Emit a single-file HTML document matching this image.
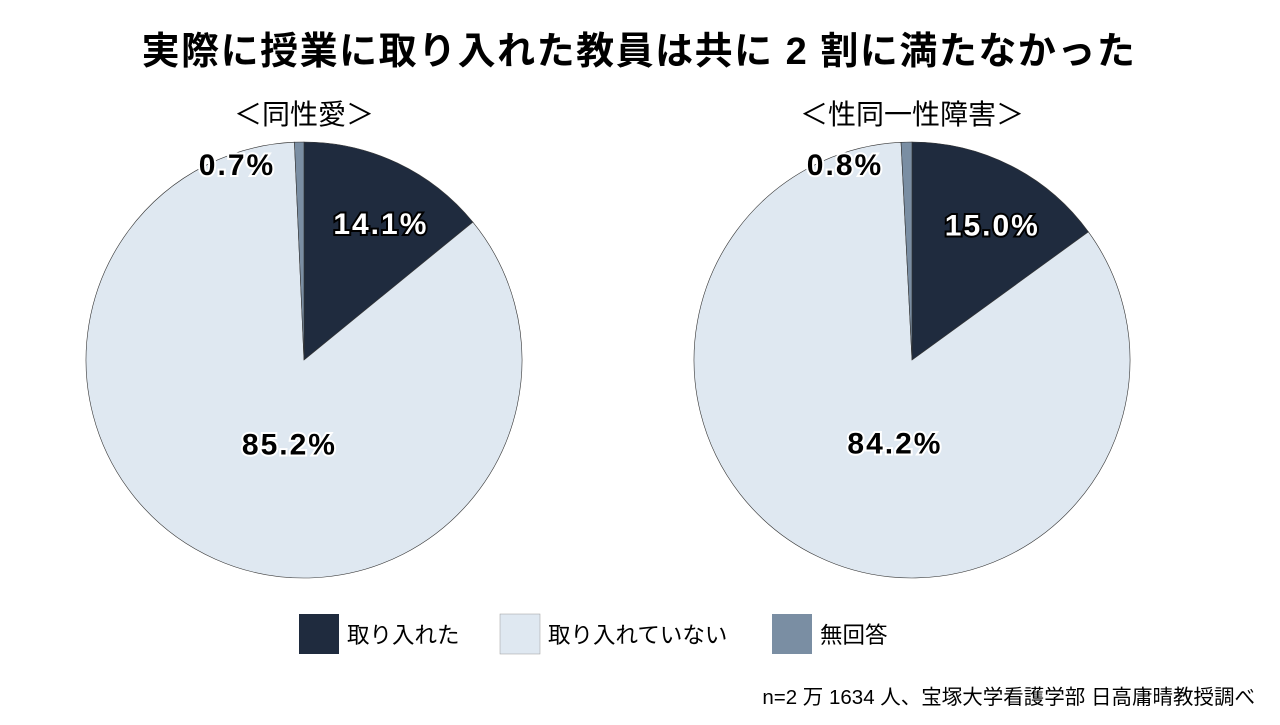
<!DOCTYPE html>
<html><head><meta charset="utf-8"><style>
body{margin:0;background:#fff;}
svg text{font-family:"Liberation Sans","Noto Sans CJK JP",sans-serif;}
</style></head><body>
<svg width="1280" height="720" viewBox="0 0 1280 720">
<text x="639" y="64" text-anchor="middle" font-size="38" font-weight="bold" letter-spacing="1.5" fill="#000">実際に授業に取り入れた教員は共に 2 割に満たなかった</text>
<g id="pies"></g>
<g>
<rect x="299" y="614" width="40" height="40" fill="#1f2b3e"/>
<text x="347" y="643" font-size="22.5">取り入れた</text>
<rect x="500" y="614" width="40" height="40" fill="#dfe8f1" stroke="#999" stroke-width="0.5"/>
<text x="548" y="643" font-size="22.5">取り入れていない</text>
<rect x="772" y="614" width="40" height="40" fill="#7a8ea3"/>
<text x="820" y="643" font-size="22.5">無回答</text>
</g>
<text x="1255" y="704" text-anchor="end" font-size="20.5">n=2 万 1634 人、宝塚大学看護学部 日高庸晴教授調べ</text>
</svg>
<script>
const titles = ["＜同性愛＞", "＜性同一性障害＞"];
const categories = ["取り入れた", "取り入れていない", "無回答"];
const valuesHomosexuality = [14.1, 85.2, 0.7];
const valuesGenderIdentity = [15.0, 84.2, 0.8];
const colors = ["#1f2b3e", "#dfe8f1", "#7a8ea3"];
const NS = "http://www.w3.org/2000/svg";
const g = document.getElementById("pies");
function mk(tag, attrs){const e=document.createElementNS(NS,tag);for(const k in attrs)e.setAttribute(k,attrs[k]);return e;}
function pt(cx,cy,r,f){const a=f*2*Math.PI;return [cx+r*Math.sin(a),cy-r*Math.cos(a)];}
[valuesHomosexuality, valuesGenderIdentity].forEach((vals,pi)=>{
  const cx = 304 + pi*608, cy = 360, r = 218;
  const t = mk("text",{x:cx,y:124,"text-anchor":"middle","font-size":"28"});
  t.textContent = titles[pi];
  
  
  g.appendChild(t);
  const total = vals.reduce((a,b)=>a+b,0);
  let acc = 0;
  vals.forEach((v,i)=>{
    const f0 = acc/total, f1 = (acc+v)/total; acc += v;
    const p0 = pt(cx,cy,r,f0), p1 = pt(cx,cy,r,f1);
    const large = (f1-f0)>0.5?1:0;
    const p = mk("path",{d:`M${cx},${cy}L${p0[0]},${p0[1]}A${r},${r} 0 ${large} 1 ${p1[0]},${p1[1]}Z`,fill:colors[i],stroke:"#333","stroke-width":"0.6"});
    
    
    g.appendChild(p);
  });
  acc = 0;
  vals.forEach((v,i)=>{
    const fm = (acc + v/2)/total; acc += v;
    let lx, ly;
    if (i===2) { lx = cx-67; ly = 175; }
    else if (i===0) { const q=pt(cx,cy,r*0.63,fm); lx=q[0]+18; ly=q[1]-2; }
    else { const q=pt(cx,cy,r*0.5,fm); lx=q[0]+30; ly=q[1]-5; }
    const dark = i===0;
    const lab = mk("text",{x:lx,y:ly,"text-anchor":"middle","font-size":"30","font-weight":"bold","letter-spacing":"2",fill:dark?"#fff":"#000",stroke:dark?"#000":"#fff","stroke-width":"4","paint-order":"stroke"});
    lab.textContent = v.toFixed(1)+"%";
    
    
    g.appendChild(lab);
  });
});
</script>
</body></html>
